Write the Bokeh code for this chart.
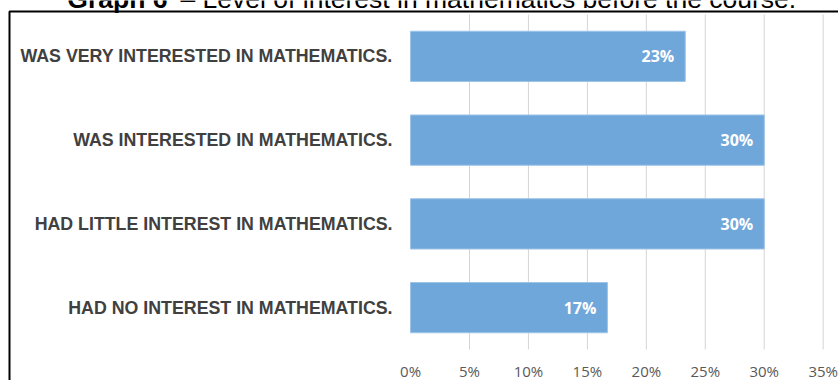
from bokeh.plotting import figure
from bokeh.models import ColumnDataSource, Range1d, BoxAnnotation, Label
from bokeh.core.properties import value
from bokeh.embed import file_html
from bokeh.resources import INLINE

# ---- data ----
categories = [
    "WAS VERY INTERESTED IN MATHEMATICS.",
    "WAS INTERESTED IN MATHEMATICS.",
    "HAD LITTLE INTEREST IN MATHEMATICS.",
    "HAD NO INTEREST IN MATHEMATICS.",
]
values = [23.3, 30.0, 30.0, 16.7]
tick_values = [0, 5, 10, 15, 20, 25, 30, 35]
tick_labels = ["0%", "5%", "10%", "15%", "20%", "25%", "30%", "35%"]
title_bold = "Graph 6"
title_rest = "– Level of interest in mathematics before the course."

n = len(categories)
ypos = [n - 1 - i for i in range(n)]           # first category on top
bar_labels = [f"{round(v)}%" for v in values]
src = ColumnDataSource(dict(cat=categories, y=ypos, val=values, lab=bar_labels))
tick_src = ColumnDataSource(dict(x=tick_values, lab=tick_labels))
grid_src = ColumnDataSource(dict(x=tick_values[1:]))

# plot frame covers the whole canvas; ranges place 0% at x=410 px
p = figure(width=838, height=380,
           x_range=Range1d(-34.78, 36.30),
           y_range=Range1d(-0.870, 3.667),
           output_backend="svg", toolbar_location=None,
           min_border=0, x_axis_type=None, y_axis_type=None)
p.outline_line_color = None
p.xgrid.grid_line_color = None
p.ygrid.grid_line_color = None
p.background_fill_color = "white"
p.border_fill_color = "white"

# vertical gridlines
p.segment(x0="x", x1="x", y0=-0.5, y1=n - 0.5, source=grid_src,
          line_color="#d5d5d5", line_width=1)

# bars
p.hbar(y="y", right="val", left=0, height=0.6, source=src,
       fill_color="#70a7da", line_color="#9cc3e8", line_width=1)

# value labels inside bars
p.text(x="val", y="y", text="lab", source=src, x_offset=-11,
       text_align="right", text_baseline="middle", text_color="white",
       text_font=value("Open Sans"), text_font_style="bold",
       text_font_size="16px")

# category labels (left axis)
p.text(x=0, y="y", text="cat", source=src, x_offset=-18,
       text_align="right", text_baseline="middle", text_color="#404040",
       text_font=value("Liberation Sans"), text_font_style="bold",
       text_font_size="17.8px")

# tick labels (bottom axis)
p.text(x="x", y=-0.5, text="lab", source=tick_src, y_offset=21,
       text_align="center", text_baseline="middle", text_color="#595959",
       text_font=value("Open Sans"), text_font_size="15px")

# outer black frame
box = BoxAnnotation(left=9, right=860, top=11, bottom=420,
                    left_units="canvas", right_units="canvas",
                    top_units="canvas", bottom_units="canvas",
                    fill_alpha=0, line_color="black", line_alpha=1,
                    line_width=2)
p.add_layout(box)

# title (partly cut at the top)
t1 = Label(x=167, y=-1.5, x_units="canvas", y_units="canvas", text=title_bold,
           text_align="right", text_baseline="alphabetic",
           text_font="Liberation Sans", text_font_style="bold",
           text_font_size="26.5px", text_color="black")
t2 = Label(x=180, y=-1.5, x_units="canvas", y_units="canvas", text=title_rest,
           text_align="left", text_baseline="alphabetic",
           text_font="Liberation Sans", text_font_size="26.5px",
           text_color="black")
p.add_layout(t1)
p.add_layout(t2)

open("out.html", "w").write(file_html(p, INLINE))
